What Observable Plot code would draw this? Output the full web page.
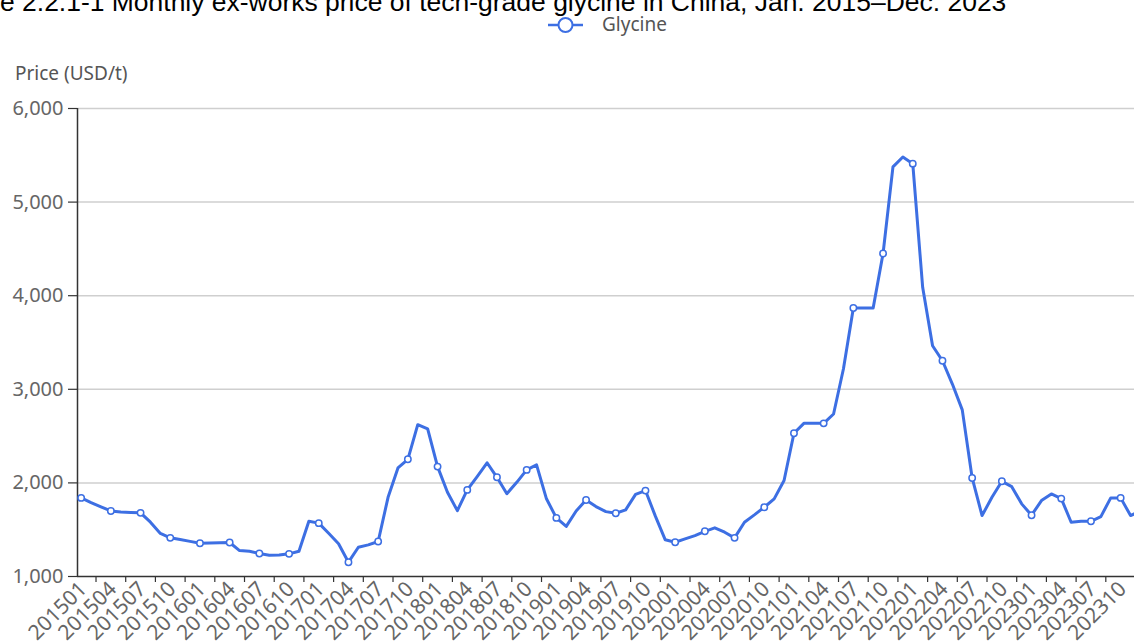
<!DOCTYPE html>
<html>
<head>
<meta charset="utf-8">
<script src="https://cdn.jsdelivr.net/npm/d3@7"></script>
<script src="https://cdn.jsdelivr.net/npm/@observablehq/plot@0.6"></script>
<style>
  html, body { margin: 0; padding: 0; background: #fff; width: 1134px; height: 641px; overflow: hidden; }
  #wrap { position: relative; width: 1134px; height: 641px; overflow: hidden; }
  #chart { position: absolute; left: 0; top: 0; }
  #overlay { position: absolute; left: 0; top: 0; pointer-events: none; }
</style>
</head>
<body>
<div id="wrap">
  <div id="chart"></div>
  <svg id="overlay" width="1134" height="100"></svg>
</div>
<script>
// ---- data ----
const months = [
  "201501","201502","201503","201504","201505","201506","201507","201508","201509","201510","201511","201512",
  "201601","201602","201603","201604","201605","201606","201607","201608","201609","201610","201611","201612",
  "201701","201702","201703","201704","201705","201706","201707","201708","201709","201710","201711","201712",
  "201801","201802","201803","201804","201805","201806","201807","201808","201809","201810","201811","201812",
  "201901","201902","201903","201904","201905","201906","201907","201908","201909","201910","201911","201912",
  "202001","202002","202003","202004","202005","202006","202007","202008","202009","202010","202011","202012",
  "202101","202102","202103","202104","202105","202106","202107","202108","202109","202110","202111","202112",
  "202201","202202","202203","202204","202205","202206","202207","202208","202209","202210","202211","202212",
  "202301","202302","202303","202304","202305","202306","202307","202308","202309","202310","202311","202312"
];
const glycinePrice = [
  1840, 1790, 1745, 1700, 1688, 1683, 1680, 1580, 1460, 1413, 1395, 1375,
  1355, 1357, 1360, 1363, 1277, 1270, 1245, 1228, 1230, 1242, 1270, 1590,
  1570, 1462, 1350, 1153, 1313, 1338, 1374, 1846, 2160, 2252, 2622, 2576,
  2174, 1900, 1704, 1925, 2068, 2215, 2060, 1885, 2006, 2139, 2192, 1830,
  1626, 1535, 1700, 1818, 1747, 1693, 1676, 1712, 1878, 1918, 1645, 1392,
  1366, 1402, 1437, 1483, 1520, 1473, 1413, 1580, 1658, 1740, 1829, 2025,
  2530, 2636, 2636, 2636, 2736, 3220, 3868, 3868, 3868, 4451, 5376, 5482,
  5411, 4090, 3465, 3305, 3056, 2780, 2053, 1651, 1846, 2017, 1960, 1776,
  1655, 1811, 1882, 1832, 1580, 1590, 1590, 1640, 1840, 1840, 1651, 1700
];
const yTicks = [1000, 2000, 3000, 4000, 5000, 6000];
const seriesName = "Glycine";
const yLabel = "Price (USD/t)";
const titleText = "Figure 2.2.1-1 Monthly ex-works price of tech-grade glycine in China, Jan. 2015–Dec. 2023";

// ---- derived ----
const data = months.map((m, i) => ({i, m, v: glycinePrice[i]}));
const labelled = data.filter(d => d.i % 3 === 0);
const tickPos = labelled.map(d => d.i + 1.5);

const BLUE = "#3d6fe3";
const FONT = "'Noto Sans', 'Open Sans', sans-serif";
const W = 1134, H = 641;
const ML = 77, MT = 108, MB = 65;
const STEP = 9.9;
const X0 = -0.37;
const X1 = X0 + (W - ML) / STEP;
const pxPerUnitY = (H - MB - MT) / 5000;

const plot = Plot.plot({
  width: W, height: H,
  marginLeft: ML, marginRight: 0, marginTop: MT, marginBottom: MB,
  style: {fontFamily: FONT, fontSize: "20px", background: "transparent", overflow: "hidden", maxWidth: "none"},
  x: {type: "linear", domain: [X0, X1], axis: null},
  y: {domain: [1000, 6000], axis: null},
  marks: [
    Plot.gridY(yTicks.filter(d => d > 1000), {stroke: "#cfcfcf", strokeOpacity: 1, strokeWidth: 1.5}),
    Plot.axisY(yTicks, {tickSize: 9, tickPadding: 5, tickFormat: d3.format(","), stroke: "#333", strokeWidth: 1.2, fill: "#666", label: null, fontSize: 20}),
    Plot.ruleX([X0], {stroke: "#333", strokeWidth: 1.5}),
    Plot.ruleY([1000], {stroke: "#333", strokeWidth: 1.5}),
    Plot.ruleX(tickPos, {y1: 1000, y2: 1000 - 6 / pxPerUnitY, stroke: "#333", strokeWidth: 1.2}),
    Plot.text(labelled, {x: "i", y: () => 1000, text: "m", rotate: -45, textAnchor: "end", lineAnchor: "middle", dy: 9, dx: 2, fill: "#666", fontSize: 21}),
    Plot.line(data, {x: "i", y: "v", stroke: BLUE, strokeWidth: 3, clip: true}),
    Plot.dot(labelled, {x: "i", y: "v", r: 3.2, fill: "white", stroke: BLUE, strokeWidth: 1.5, clip: true})
  ]
});
document.getElementById("chart").appendChild(plot);

// ---- overlay: title (cropped at left/top as in reference), legend, y label ----
const ov = d3.select("#overlay");
const ctx = document.createElement("canvas").getContext("2d");
ctx.font = "100px 'Liberation Sans'";
const wFull = ctx.measureText(titleText).width;
const wPre = ctx.measureText("Figur").width;
const tSize = 100 * 1007 / (wFull - wPre);
ov.append("text")
  .attr("x", -wPre * tSize / 100).attr("y", 11)
  .attr("font-family", "'Liberation Sans', Arial, sans-serif")
  .attr("font-size", tSize).attr("fill", "#000")
  .text(titleText);

ov.append("line").attr("x1", 548).attr("x2", 583).attr("y1", 25).attr("y2", 25)
  .attr("stroke", BLUE).attr("stroke-width", 2.5);
ov.append("circle").attr("cx", 565.5).attr("cy", 25).attr("r", 7)
  .attr("fill", "white").attr("stroke", BLUE).attr("stroke-width", 2);
ov.append("text").attr("x", 602).attr("y", 31)
  .attr("font-family", FONT).attr("font-size", 19).attr("fill", "#555")
  .text(seriesName);

ov.append("text").attr("x", 15).attr("y", 80)
  .attr("font-family", FONT).attr("font-size", 19).attr("fill", "#555")
  .text(yLabel);
</script>
</body>
</html>
